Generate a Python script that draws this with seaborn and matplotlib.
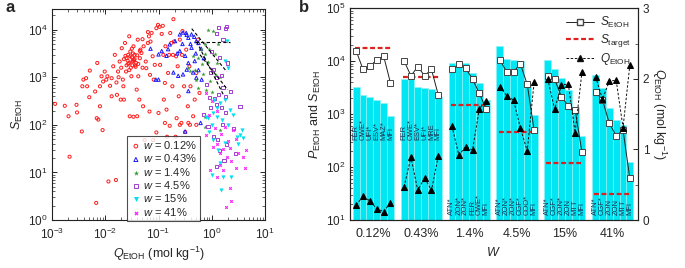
import numpy as np
import pandas as pd
import matplotlib
matplotlib.use('Agg')
import matplotlib.pyplot as plt
from matplotlib.lines import Line2D
from matplotlib.ticker import LogLocator, MultipleLocator, NullFormatter
import seaborn as sns

# ---- panel a: log10 of Q_EtOH and S_EtOH ----
red_lq = [-2.94, -2.76, -2.69, -2.67, -2.54, -2.53, -2.44, -2.43, -2.41, -2.36, -2.34, -2.29, -2.30, -2.19,
          -2.17, -2.16, -2.15, -2.13, -2.10, -2.10, -2.07, -2.05, -2.04, -2.01, -1.98, -1.96, -1.94, -1.91,
          -1.88, -1.88, -1.85, -1.82, -1.80, -1.79, -1.78, -1.76, -1.73, -1.71, -1.69, -1.67, -1.66, -1.65,
          -1.63, -1.61, -1.60, -1.57, -1.55, -1.54, -1.53, -1.51, -1.49, -1.48, -1.47, -1.45, -1.41, -1.40,
          -1.39, -1.38, -1.36, -1.34, -1.32, -1.29, -1.28, -1.26, -1.24, -1.23, -1.20, -1.18, -1.17, -1.16,
          -1.13, -1.11, -1.10, -1.09, -1.07, -1.60, -1.55, -1.50, -1.45, -1.42, -1.52, -1.58, -1.48, -1.44,
          -1.62, -1.50, -1.35, -1.70, -1.75, -1.30, -1.04, -1.01, -0.98, -0.97, -0.94, -0.92, -0.91, -0.90,
          -0.88, -0.87, -0.85, -0.82, -0.80, -0.79, -0.78, -0.76, -0.74, -0.73, -0.72, -0.71, -0.68, -0.67,
          -0.64, -0.62, -0.60, -0.57, -0.56, -0.55, -0.52, -0.48, -0.45, -0.44, -0.42, -0.40, -0.35, -0.32,
          -0.29, -0.26, -0.23, -1.04, -0.88, -0.84, -0.66, -0.41, -0.29, -1.47, -1.20, -1.30, -1.15, -0.60,
          -1.00, -0.50, -1.46, -1.53, -1.40, -1.57, -1.43, -1.49, -1.38, -1.65, -1.35, -1.55]
red_ls = [2.44, 2.40, 2.18, 1.33, 2.42, 2.26, 1.86, 2.81, 2.95, 2.98, 2.81, 3.14, 2.58, 2.70,
          0.36, 2.14, 3.30, 2.11, 2.39, 2.81, 3.02, 1.89, 2.91, 3.12, 2.95, 3.02, 0.81, 2.82,
          2.98, 2.60, 3.23, 3.47, 0.84, 2.89, 2.63, 3.12, 3.33, 2.53, 3.61, 2.95, 2.81, 2.53,
          3.72, 3.12, 3.25, 3.47, 3.86, 2.18, 3.54, 3.02, 3.25, 3.35, 3.65, 3.47, 2.74, 2.18,
          3.79, 3.02, 2.53, 3.58, 3.51, 2.39, 3.65, 1.68, 3.33, 3.19, 3.72, 3.86, 2.28, 3.05,
          3.93, 3.44, 1.68, 2.95, 3.26, 3.40, 3.30, 3.42, 3.38, 3.30, 3.20, 3.35, 3.50, 3.25,
          3.45, 3.60, 3.40, 3.20, 3.00, 3.20, 4.03, 4.10, 4.06, 3.26, 3.91, 4.08, 3.47, 2.53,
          2.88, 3.65, 2.32, 3.09, 3.47, 1.98, 3.93, 3.72, 2.81, 3.47, 4.22, 3.75, 1.75, 3.44,
          3.23, 2.60, 3.79, 2.04, 3.47, 3.97, 2.81, 3.58, 2.39, 2.04, 3.23, 2.81, 2.18, 2.53,
          3.09, 3.79, 2.67, 1.84, 2.04, 1.75, 2.14, 2.00, 2.00, 2.17, 3.95, 3.80, 3.75, 2.00,
          2.25, 1.85, 3.36, 3.44, 3.46, 3.28, 3.22, 3.33, 3.28, 3.38, 3.55, 3.15]

blue_lq = [-0.60, -0.54, -0.47, -0.44, -0.38, -0.33, -0.29, -0.25, -0.69, -0.79, -0.82, -0.94, -1.00, -0.60,
           -0.50, -0.44, -0.38, -0.47, -0.54, -0.32, -0.29, -0.35, -0.63, -0.72, -1.00, -0.44, -0.25, -0.19,
           -0.50, -1.05, -1.15, -0.21, -0.65, -0.40, -0.55, -0.85, -0.30, -0.15, -0.20, -0.48]
blue_ls = [3.90, 3.94, 3.89, 3.83, 3.90, 3.85, 3.76, 3.72, 3.76, 3.69, 3.59, 3.55, 3.48, 3.55,
           3.45, 3.30, 3.62, 3.16, 3.06, 3.34, 2.99, 3.10, 3.03, 3.10, 2.95, 2.71, 3.15, 2.95,
           1.86, 2.95, 3.60, 2.04, 3.50, 3.70, 3.70, 3.45, 3.50, 3.40, 3.60, 3.93]

green_lq = [-0.07, 0.03, -0.13, -0.26, -0.41, -0.45, -0.32, -0.19, -0.13, -0.07, -0.04, -0.10, 0.00, -0.16,
            0.06, 0.08, -0.26, -0.30, -0.13, 0.15, -0.13, -0.20, 0.10, -0.05, 0.12, -0.35, 0.00, 0.15]
green_ls = [4.00, 3.97, 3.69, 3.41, 3.13, 3.20, 3.16, 3.27, 3.48, 3.31, 2.92, 2.74, 2.70, 3.06,
            3.48, 3.05, 2.78, 2.95, 1.96, 1.89, 2.17, 3.60, 3.30, 3.60, 3.70, 3.45, 3.15, 3.00]

purple_lq = [0.09, 0.26, 0.21, 0.00, 0.15, 0.03, -0.02, 0.09, 0.18, 0.21, 0.12, -0.04, 0.05, 0.25,
             0.09, -0.02, 0.18, 0.53, -0.16, -0.07, 0.03, 0.14, 0.23, 0.28, 0.09, 0.40, 0.25, 0.12,
             0.28, 0.30, 0.20, 0.35, -0.10, 0.10, 0.45]
purple_ls = [3.92, 4.03, 3.80, 3.55, 3.41, 3.16, 3.10, 2.99, 3.03, 2.78, 2.64, 2.57, 2.55, 2.60,
             2.43, 2.36, 2.36, 2.39, 2.21, 1.96, 1.75, 1.47, 1.26, 1.58, 1.12, 1.93, 2.25, 4.04,
             4.07, 3.30, 2.00, 2.70, 2.85, 1.70, 1.40]

cyan_lq = [0.28, 0.25, 0.31, -0.10, 0.09, 0.00, 0.03, 0.53, 0.59, 0.25, 0.12, 0.00, 0.18, 0.21, 0.37,
           0.03, 0.15, 0.34, -0.07, 0.25, 0.05, 0.56, 0.47, 0.50, 0.20, 0.30, 0.10, 0.40, -0.05, 0.15]
cyan_ls = [3.76, 3.34, 3.20, 2.17, 2.17, 2.00, 1.68, 1.79, 1.72, 1.61, 1.47, 0.95, 0.63, 0.91, 0.91,
           2.25, 2.46, 2.32, 2.14, 2.53, 2.53, 1.89, 1.75, 1.60, 2.10, 2.00, 2.35, 2.20, 1.85, 1.20]

magenta_lq = [-0.10, 0.03, 0.09, 0.15, 0.21, 0.28, 0.37, -0.04, 0.09, 0.21, 0.34, 0.37, 0.26, 0.59, 0.62,
              0.65, 0.50, 0.34, 0.45, 0.18, 0.06, 0.25, 0.40, 0.30, -0.10, 0.00, 0.10, -0.05, 0.45, 0.15]
magenta_ls = [1.79, 1.54, 1.60, 1.40, 1.50, 1.33, 1.23, 1.05, 0.91, 1.05, 0.67, 0.39, 0.28, 1.33, 1.09,
              1.47, 1.40, 1.51, 1.70, 1.80, 1.93, 1.95, 1.89, 1.65, 2.67, 2.50, 2.30, 2.20, 1.10, 1.15]

# dashed trend lines in panel a (start, end)
trend_q = [(0.42, 1.92), (0.52, 1.69), (0.60, 2.0), (0.48, 2.2)]
trend_s = [(10500, 1300), (5590, 408), (2970, 545), (5400, 5400)]

# ---- panel b ----
w_labels = ['0.12%', '0.43%', '1.4%', '4.5%', '15%', '41%']
frameworks = [['FER', 'OWE*', 'UFI*', 'ESV*', 'MAZ*', 'MFI'],
              ['FER', 'OWE*', 'ESV*', 'UFI*', 'MRE', 'MFI'],
              ['ATN*', 'ZON*', 'ZON*', 'FER', 'OWE*', 'MFI'],
              ['ATN*', 'ZON*', 'ZON*', 'CGF*', 'COO*', 'MFI'],
              ['ATN*', 'CGF*', 'ZON*', 'ZON', 'MTT', 'MFI'],
              ['ATN*', 'CGF*', 'ZON', 'ZON', 'MTT', 'MFI']]
P_etoh = [[3210, 2300, 2130, 1850, 1600, 920],
          [4610, 4610, 3210, 3080, 2950, 2130],
          [9380, 9380, 9120, 5900, 3820, 1850],
          [19400, 11000, 10500, 10100, 3700, 960],
          [10500, 7130, 4820, 2860, 1380, 385],
          [5480, 3080, 1290, 773, 622, 126]]
S_etoh = [[15600, 7030, 8110, 10550, 12700, 3930],
          [10100, 5320, 7870, 5320, 7030, 2300],
          [7130, 8850, 7350, 4600, 2470, 1250],
          [10500, 6340, 6340, 8850, 3660, 500],
          [5320, 4600, 2130, 1440, 1200, 190],
          [2650, 1850, 670, 391, 500, 61]]
Q_etoh = [[0.21, 0.34, 0.27, 0.16, 0.12, 0.24],
          [0.47, 0.89, 0.42, 0.60, 0.42, 0.91],
          [1.33, 0.92, 1.04, 0.99, 1.58, 1.68],
          [1.89, 1.76, 1.70, 1.30, 0.98, 1.95],
          [2.00, 1.57, 1.91, 1.93, 1.24, 2.10],
          [2.03, 1.71, 1.97, 1.98, 1.31, 2.20]]
S_target = [17500, 4970, 1470, 453, 117, 31]

sns.set_style('ticks')
plt.rcParams['font.family'] = ['Liberation Sans', 'DejaVu Sans']
plt.rcParams['mathtext.fontset'] = 'custom'
plt.rcParams['mathtext.rm'] = 'Liberation Sans'
plt.rcParams['mathtext.it'] = 'Liberation Sans:italic'
plt.rcParams['mathtext.bf'] = 'Liberation Sans:bold'
plt.rcParams['axes.linewidth'] = 0.8
plt.rcParams['axes.edgecolor'] = '#222222'

fig = plt.figure(figsize=(6.85, 2.68), dpi=100)
axa = fig.add_axes([0.0759, 0.179, 0.311, 0.787])
axb = fig.add_axes([0.511, 0.179, 0.42, 0.79])

# panel a
axa.set(xscale='log', yscale='log')
series = [('0.12%', red_lq, red_ls, '#ff1a1a', 'o', False, 5),
          ('0.43%', blue_lq, blue_ls, '#1a1aff', '^', False, 6),
          ('1.4%', green_lq, green_ls, '#3a9a3a', '*', True, 11),
          ('4.5%', purple_lq, purple_ls, '#a040d0', 's', False, 5),
          ('15%', cyan_lq, cyan_ls, '#00e0f0', 'v', True, 9),
          ('41%', magenta_lq, magenta_ls, '#ff20ff', 'X', True, 6)]
for name, lq, ls_, col, mk, filled, sz in series:
    df = pd.DataFrame({'Q': 10 ** np.array(lq), 'S': 10 ** np.array(ls_)})
    sns.scatterplot(data=df, x='Q', y='S', color=col, marker=mk, s=sz, linewidth=0,
                    ax=axa, label='$w$ = ' + name)
    if not filled:
        coll = axa.collections[-1]
        coll.set_facecolor('none')
        coll.set_edgecolor(col)
        coll.set_linewidth(0.7)

for tq, ts in zip(trend_q, trend_s):
    axa.plot(tq, ts, color='k', ls=(0, (3, 2)), lw=0.8)

axa.set_xlim(1e-3, 10)
axa.set_ylim(1, 2.7e4)
axa.set_xlabel('$Q_{\\mathrm{EtOH}}$ (mol kg$^{-1}$)', fontsize=9, labelpad=2)
axa.set_ylabel('$S_{\\mathrm{EtOH}}$', fontsize=9, labelpad=2)
axa.xaxis.set_major_locator(LogLocator(base=10, numticks=10))
axa.yaxis.set_major_locator(LogLocator(base=10, numticks=10))
axa.xaxis.set_minor_locator(LogLocator(base=10, subs=np.arange(2, 10), numticks=20))
axa.yaxis.set_minor_locator(LogLocator(base=10, subs=np.arange(2, 10), numticks=20))
axa.xaxis.set_minor_formatter(NullFormatter())
axa.yaxis.set_minor_formatter(NullFormatter())
axa.tick_params(which='both', direction='in', top=True, right=True, labelsize=8.5)
axa.tick_params(axis='x', pad=5)
axa.tick_params(axis='y', pad=3)
axa.tick_params(which='major', length=3.5, width=0.7)
axa.tick_params(which='minor', length=2, width=0.5)
leg = axa.legend(loc='lower left', bbox_to_anchor=(0.352, -0.005), frameon=True, fancybox=False,
                 edgecolor='#222222', fontsize=8, handletextpad=0.1, labelspacing=0.12,
                 borderpad=0.3, handlelength=1.0, markerscale=1.2, borderaxespad=0)
leg.get_frame().set_linewidth(0.8)

# panel b
axb.set_yscale('log')
pos = []
grp = []
for g in range(6):
    for i in range(6):
        pos.append(g * 7 + i)
        grp.append(g)
df_b = pd.DataFrame({'pos': pos, 'group': grp,
                     'P': np.ravel(P_etoh), 'S': np.ravel(S_etoh), 'Q': np.ravel(Q_etoh)})
axb.bar(df_b['pos'], df_b['P'], width=1.0, color='#00e6f2', edgecolor='#8ef3f8', linewidth=0.5, zorder=1)
sns.lineplot(data=df_b, x='pos', y='S', units='group', estimator=None, color='#222222', lw=0.7,
             marker='s', markersize=4, markerfacecolor='white', markeredgecolor='#444444',
             markeredgewidth=0.7, ax=axb, zorder=4)
for g in range(6):
    axb.hlines(S_target[g], g * 7 - 0.2, g * 7 + 5.2, colors='#e02020', linestyles=(0, (2.2, 1.2)),
               lw=1.6, zorder=3)
    for i in range(6):
        yb = 330 if g < 2 else 12.5
        axb.text(g * 7 + i, yb, frameworks[g][i], rotation=90, ha='center', va='bottom',
                 fontsize=5.4, color='#1a3050', zorder=5)

axb.set_xlim(-0.9, 41.15)
axb.set_ylim(10, 1e5)
axb.set_xticks([g * 7 + 2.5 for g in range(6)])
axb.set_xticklabels(w_labels, fontsize=9)
axb.tick_params(axis='x', length=0, pad=6)
axb.yaxis.set_minor_locator(LogLocator(base=10, subs=np.arange(2, 10), numticks=20))
axb.yaxis.set_minor_formatter(NullFormatter())
axb.tick_params(axis='y', which='both', direction='in', labelsize=8.5)
axb.tick_params(axis='y', which='major', length=3.5, width=0.7)
axb.tick_params(axis='y', which='minor', length=2, width=0.5)
axb.set_xlabel('$W$', fontsize=9, labelpad=4)
axb.set_ylabel('$P_{\\mathrm{EtOH}}$ and $S_{\\mathrm{EtOH}}$', fontsize=9, labelpad=2)

ax2 = axb.twinx()
sns.lineplot(data=df_b, x='pos', y='Q', units='group', estimator=None, color='#111111', lw=0.7,
             ls=(0, (2.5, 1.8)), marker='^', markersize=4.5, markerfacecolor='black',
             markeredgecolor='black', ax=ax2, zorder=4)
ax2.set_ylim(0, 3)
ax2.set_xlim(-0.9, 41.15)
ax2.yaxis.set_major_locator(MultipleLocator(1))
ax2.yaxis.set_minor_locator(MultipleLocator(0.5))
ax2.tick_params(axis='y', which='both', direction='in', labelsize=8.5)
ax2.tick_params(axis='y', which='major', length=3.5, width=0.7)
ax2.tick_params(axis='y', which='minor', length=2, width=0.5)
ax2.set_ylabel('$Q_{\\mathrm{EtOH}}$ (mol kg$^{-1}$)', fontsize=9, rotation=270, labelpad=14)
ax2.set_xlabel('')

handles = [Line2D([], [], color='#222222', lw=0.7, marker='s', markersize=4, mfc='white', mec='#444444'),
           Line2D([], [], color='#e02020', lw=1.6, ls=(0, (2.2, 1.2))),
           Line2D([], [], color='#111111', lw=0.7, ls=(0, (2.5, 1.8)), marker='^', markersize=4.5, mfc='black')]
ax2.legend(handles, ['$S_{\\mathrm{EtOH}}$', '$S_{\\mathrm{target}}$', '$Q_{\\mathrm{EtOH}}$'],
           loc='upper right', bbox_to_anchor=(1.0, 1.0), frameon=False, fontsize=8.5,
           handlelength=2.4, labelspacing=0.15, handletextpad=0.5, borderaxespad=0.2)

fig.text(0.008, 0.955, 'a', fontsize=12, fontweight='bold')
fig.text(0.437, 0.955, 'b', fontsize=12, fontweight='bold')

fig.savefig('out.png', dpi=100)
